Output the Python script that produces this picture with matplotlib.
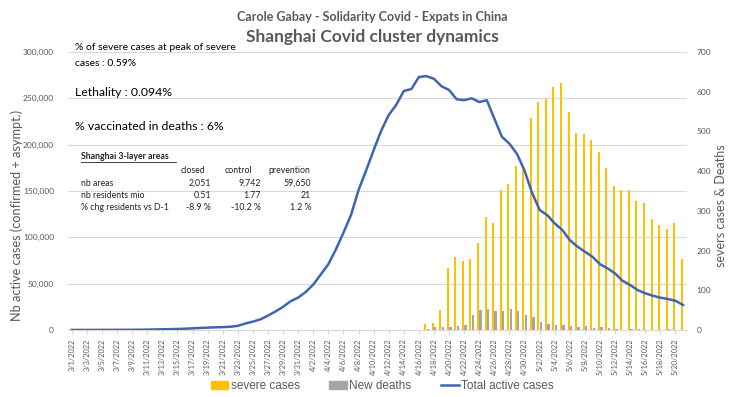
import matplotlib
matplotlib.use("Agg")
import matplotlib.pyplot as plt
import numpy as np
import pandas as pd
from matplotlib.patches import Patch
from matplotlib.lines import Line2D

# ---------------- data ----------------
dates = pd.date_range("2022-03-01", "2022-05-21", freq="D")
date_labels = [f"{d.month}/{d.day}/{d.year}" for d in dates]

total_active = [
    40, 50, 60, 80, 100, 120, 150, 200, 250, 300,          # 3/1-3/10
    400, 600, 800, 900, 1100, 1400, 1800, 2200, 2500, 2900,  # 3/11-3/20
    3100, 3500, 4500, 7000, 9000, 11500, 15500, 20000, 25000, 31000,  # 3/21-3/30
    35000, 41000, 49000, 60000, 71000, 87000, 105000, 124000, 151000, 172000,  # 3/31-4/9
    194000, 215000, 232000, 243000, 258000, 260000, 273000, 274000, 271000, 263000,  # 4/10-4/19
    259000, 249000, 248000, 250000, 246000, 248000, 228000, 208500, 201000, 190000,  # 4/20-4/29
    172000, 148000, 129500, 124000, 115000, 108000, 97000, 90000, 84500, 79000,  # 4/30-5/9
    71000, 66500, 61000, 53000, 48500, 43000, 39600, 37000, 34900, 33400,  # 5/10-5/19
    31600, 27000,  # 5/20-5/21
]

severe_cases = [0] * 47 + [
    15, 18, 50, 155, 183, 175, 178, 218, 285, 270,     # 4/17-4/26
    352, 368, 413, 403, 533, 575, 581, 611, 621, 550,  # 4/27-5/6
    497, 494, 478, 449, 409, 363, 352, 352, 326, 321,  # 5/7-5/16
    280, 264, 254, 270, 178,                           # 5/17-5/21
]

new_deaths = [0] * 47 + [
    3, 7, 7, 8, 11, 12, 39, 51, 52, 48,
    47, 52, 47, 38, 32, 20, 16, 13, 12, 11,
    8, 9, 6, 7, 4, 2, 1, 2, 2, 1,
    0, 1, 2, 1, 0,
]

left_ticks = [0, 50000, 100000, 150000, 200000, 250000, 300000]
right_ticks = [0, 100, 200, 300, 400, 500, 600, 700]

table_cols = ["closed", "control", "prevention"]
table_rows = ["nb areas", "nb residents mio", "% chg residents vs D-1"]
table_vals = [["2,051", "9,742", "59,650"],
              ["0.51", "1.77", "21"],
              ["-8.9 %", "-10.2 %", "1.2 %"]]

# ---------------- style ----------------
TXT = "#595959"
YELLOW = "#FFC000"
GRAY = "#A5A5A5"
BLUE = "#4065B0"
GRID = "#D9D9D9"
FONT = "Lato"
DARK = "#222222"

W, H = 745, 397
fig = plt.figure(figsize=(W / 100, H / 100), dpi=100)

x = np.arange(len(dates))
left, right, top, bottom = 68, 686.8, 52, 330
rect = [left / W, 1 - bottom / H, (right - left) / W, (bottom - top) / H]

axL = fig.add_axes(rect)
axL.set_xlim(-0.5, len(dates) - 0.5)
axL.set_ylim(0, 300000)
axL.set_yticks(left_ticks)
axL.set_yticklabels([f"{v:,}" for v in left_ticks], fontsize=6, color=TXT, family=FONT)
axL.yaxis.grid(True, color=GRID, lw=0.8)
axL.set_axisbelow(True)
for s in ["top", "right", "left"]:
    axL.spines[s].set_visible(False)
axL.spines["bottom"].set_color(GRID)
axL.tick_params(axis="y", length=0, pad=10)
axL.set_xticks(x[::2])
axL.set_xticklabels(date_labels[::2], rotation=90, fontsize=5.3, color=TXT, family=FONT)
axL.tick_params(axis="x", length=3, color=GRID, pad=3)

axR = axL.twinx()
axR.set_ylim(0, 700)
axR.set_yticks(right_ticks)
axR.set_yticklabels([str(v) for v in right_ticks], fontsize=6, color=TXT, family=FONT)
axR.tick_params(axis="y", length=0, pad=7)
for s in ["top", "right", "left", "bottom"]:
    axR.spines[s].set_visible(False)
bw = 0.26
axR.bar(x - 0.17, severe_cases, width=bw, color=YELLOW, linewidth=0)
axR.bar(x + 0.17, new_deaths, width=bw + 0.06, color=GRAY, linewidth=0)

axLine = axL.twinx()
axLine.set_ylim(0, 300000)
axLine.set_xlim(-0.5, len(dates) - 0.5)
axLine.axis("off")
axLine.plot(x, total_active, color=BLUE, lw=1.8, solid_joinstyle="round")

# ---------------- titles / labels ----------------
def ftext(px, py, s, **kw):
    return fig.text(px / W, 1 - py / H, s, family=FONT, **kw)

ftext(17, 215, "Nb active cases (confirmed + asympt.)", fontsize=9.2, color=TXT,
      rotation=90, ha="center", va="center")
ftext(721, 206, "severs cases & Deaths", fontsize=9, color=TXT,
      rotation=90, ha="center", va="center")

ftext(372.5, 17, "Carole Gabay - Solidarity Covid - Expats in China",
      ha="center", va="center", fontsize=9, fontweight="bold", color=TXT)
ftext(372.5, 37, "Shanghai Covid cluster dynamics",
      ha="center", va="center", fontsize=12.5, fontweight="bold", color=TXT)

# ---------------- annotations ----------------
ftext(75, 48, "% of severe cases at peak of severe", fontsize=7.5, va="center")
ftext(75, 63, "cases : 0.59%", fontsize=7.5, va="center")
ftext(75, 93, "Lethality : 0.094%", fontsize=8.8, va="center")
ftext(75, 126, "% vaccinated in deaths : 6%", fontsize=8.8, va="center")

ftext(81, 157, "Shanghai 3-layer areas", fontsize=6.3, fontweight="bold",
      va="center", color=DARK)
fig.add_artist(Line2D([81 / W, 176 / W], [1 - 162 / H, 1 - 162 / H],
                      color=DARK, lw=0.6))

for cx, c in zip([193, 238, 289], table_cols):
    ftext(cx, 171, c, fontsize=6.3, ha="center", va="center", color=DARK)
for r, (ry, name) in enumerate(zip([183.5, 195.5, 207], table_rows)):
    ftext(81, ry, name, fontsize=6.3, va="center", color=DARK)
    for cr, v in zip([211, 261, 311], table_vals[r]):
        ftext(cr, ry, v, fontsize=6.3, ha="right", va="center", color=DARK)

# ---------------- legend ----------------
handles = [Patch(color=YELLOW), Patch(color=GRAY), Line2D([0], [0], color=BLUE, lw=1.8)]
labels = ["severe cases", "New deaths", "Total active cases"]
fig.legend(handles, labels, loc="center", bbox_to_anchor=(382 / W, 1 - 386 / H),
           ncol=3, frameon=False, handlelength=1.5, handleheight=0.6,
           columnspacing=2.5, handletextpad=0.2,
           prop={"family": "Liberation Sans", "size": 8.5}, labelcolor=TXT)

fig.savefig("out.png", dpi=100)
